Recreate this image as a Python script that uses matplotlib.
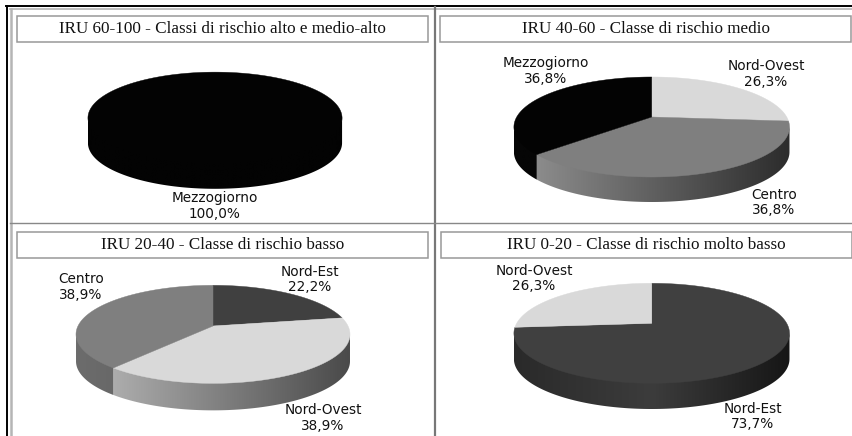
#!/usr/bin/env python
"""Quota of municipalities per macro-area in each IRU risk class, as 3D-look pies."""
import numpy as np
import matplotlib
matplotlib.use("Agg")
import matplotlib.pyplot as plt
from matplotlib.colors import to_rgb

titles = ["IRU 60-100 - Classi di rischio alto e medio-alto",
          "IRU 40-60 - Classe di rischio medio",
          "IRU 20-40 - Classe di rischio basso",
          "IRU 0-20 - Classe di rischio molto basso"]
areas_alto = ["Mezzogiorno"]
shares_alto = [100.0]
areas_medio = ["Nord-Ovest", "Centro", "Mezzogiorno"]
shares_medio = [26.3, 36.8, 36.8]
areas_basso = ["Nord-Est", "Nord-Ovest", "Centro"]
shares_basso = [22.2, 38.9, 38.9]
areas_molto = ["Nord-Est", "Nord-Ovest"]
shares_molto = [73.7, 26.3]

TOP = {"Mezzogiorno": "#030303", "Nord-Ovest": "#d9d9d9",
       "Centro": "#7f7f7f", "Nord-Est": "#404040"}

W, H = 852, 436
fig = plt.figure(figsize=(W / 100, H / 100), dpi=100)
ax = fig.add_axes([0, 0, 1, 1])
ax.axis("off")


def rim(theta, geo):
    # circle seen in perspective: the far side is squeezed by k
    cx, cy, b, a, k = geo
    d = 1 + k * np.cos(theta)
    return cx + b * np.sin(theta) / d, cy - a * np.cos(theta) / d


def gradient(stops):
    # horizontal ramp across the pie width, one row of RGB
    rgb = np.array([to_rgb(c) for c in stops])
    pos = np.linspace(0, 1, len(stops))
    t = np.linspace(0, 1, 256)
    return np.dstack([np.interp(t, pos, rgb[:, i]) for i in range(3)])


def pie3d(areas, shares, geo, depth, side):
    cuts = np.cumsum([0] + list(shares)) / sum(shares) * 2 * np.pi
    cx, cy = geo[:2]
    fine = np.linspace(0, 2 * np.pi, 3601)
    outline = rim(fine, geo)[0]
    left, right = outline.min(), outline.max()
    # only the front of the wall shows, between the two widest points of the rim
    th_right, th_left = fine[outline.argmax()], fine[outline.argmin()]
    for i, name in enumerate(areas):
        lo, hi = max(cuts[i], th_right), min(cuts[i + 1], th_left)
        if lo >= hi:
            continue
        x, y = rim(np.linspace(lo, hi, 200), geo)
        # wall starts a little under the top face so no light seam shows
        wall = plt.Polygon(np.c_[np.r_[x, x[::-1]], np.r_[y - 2, y[::-1] + depth]],
                           closed=True, transform=ax.transData, fc="none", ec="none")
        ax.add_patch(wall)
        img = ax.imshow(gradient(side[name]), aspect="auto", zorder=2,
                        extent=(left, right, cy + 120, cy - 120))
        img.set_clip_path(wall)
    for i, name in enumerate(areas):
        x, y = rim(np.linspace(cuts[i], cuts[i + 1], 200), geo)
        if len(areas) > 1:
            x, y = np.r_[cx, x], np.r_[cy, y]
        ax.fill(x, y, color=TOP[name], lw=0.3, zorder=3)


def labels(areas, shares, spots):
    for name, val, (x, y) in zip(areas, shares, spots):
        txt = f"{name}\n{val:.1f}%".replace(".", ",")
        ax.text(x, y, txt, ha="center", va="center", fontsize=9.8, color="#111111",
                linespacing=1.16, family="DejaVu Sans", zorder=5)


# table rules
ax.plot([6, W], [6.5, 6.5], color="#000000", lw=1.4)
ax.plot([6.5, 6.5], [6, H], color="#000000", lw=1.4)
ax.plot([10, W], [9.5, 9.5], color="#b5b5b5", lw=1.2)
ax.plot([10.5, 10.5], [9, H], color="#b5b5b5", lw=1.8)
ax.plot([435, 435], [7, H], color="#777777", lw=1.6)
ax.plot([10, W], [222.8, 222.8], color="#888888", lw=1.0)

# title boxes
boxes = [(17, 16, 411, 26), (440, 16, 411, 26), (17, 232, 411, 26), (441, 232, 411, 26)]
for (x, y, w, h), title in zip(boxes, titles):
    ax.add_patch(plt.Rectangle((x, y), w, h, fc="white", ec="#999999", lw=1.1))
    ax.text(x + w / 2, y + h / 2, title, ha="center", va="center", fontsize=12.3,
            family="Liberation Serif", color="#111111")

pie3d(areas_alto, shares_alto, (215, 108.8, 124.5, 44, 0.2), 25,
      {"Mezzogiorno": ["#030303", "#030303"]})
labels(areas_alto, shares_alto, [(215, 206)])

pie3d(areas_medio, shares_medio, (651.7, 117, 135, 48, 0.2), 25,
      {"Nord-Ovest": ["#8a8a8a", "#3a3a3a"], "Centro": ["#949494", "#2c2c2c"],
       "Mezzogiorno": ["#060606", "#060606"]})
labels(areas_medio, shares_medio, [(766, 74), (774, 202.5), (546, 71)])

pie3d(areas_basso, shares_basso, (213, 326, 135, 47.6, 0.17), 27,
      {"Nord-Est": ["#333333", "#2a2a2a"], "Nord-Ovest": ["#bcbcbc", "#4a4a4a"],
       "Centro": ["#6c6c6c", "#505050"]})
labels(areas_basso, shares_basso, [(310, 279.5), (323, 418), (81, 287)])

pie3d(areas_molto, shares_molto, (651.7, 323.3, 135, 48, 0.2), 25.7,
      {"Nord-Est": ["#2a2a2a", "#3c3c3c", "#161616"], "Nord-Ovest": ["#2a2a2a", "#2a2a2a"]})
labels(areas_molto, shares_molto, [(753, 416.5), (534, 278.5)])

ax.set_xlim(0, W)
ax.set_ylim(H, 0)
fig.savefig("out.png", dpi=100, facecolor="white")
